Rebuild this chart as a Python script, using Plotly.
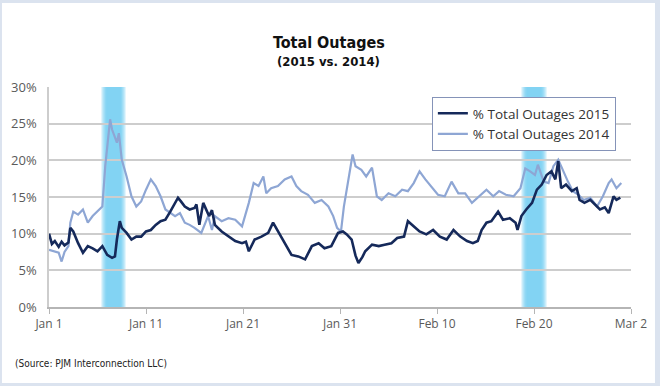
import pandas as pd
import plotly.graph_objects as go

# Day offsets from Jan 1 and % total outages
days_2015 = [0.0, 0.3, 0.6, 1.0, 1.3, 1.6, 2.0, 2.2, 2.5, 3.0, 3.5, 4.0, 4.5, 5.0, 5.5, 6.0, 6.5, 6.8,
             7.0, 7.3, 7.5, 8.0, 8.5, 9.0, 9.5, 10.0, 10.5, 11.0, 11.5, 12.0, 12.5, 13.0, 13.3, 13.6,
             14.0, 14.5, 15.0, 15.2, 15.5, 15.9, 16.5, 16.8, 17.1, 17.8, 18.5, 19.2, 19.9, 20.3, 20.6,
             21.2, 21.9, 22.6, 23.1, 23.6, 24.3, 25.0, 25.7, 26.4, 27.1, 27.8, 28.4, 29.1, 29.8, 30.3,
             30.7, 31.2, 31.6, 31.9, 32.3, 32.6, 33.3, 34.0, 34.6, 35.3, 35.9, 36.6, 37.0, 37.6, 38.2,
             38.9, 39.6, 40.3, 41.0, 41.7, 42.4, 43.1, 43.7, 44.2, 44.6, 45.1, 45.6, 46.3, 46.8, 47.5,
             48.1, 48.3, 48.7, 49.2, 49.8, 50.3, 50.8, 51.3, 51.8, 52.2, 52.5, 52.8, 53.3, 53.9, 54.4,
             54.7, 55.2, 55.8, 56.3, 56.8, 57.3, 57.7, 58.2, 58.5, 58.9]
vals_2015 = [10.0, 8.6, 9.0, 8.2, 8.9, 8.4, 8.8, 10.8, 10.3, 8.7, 7.4, 8.3, 8.0, 7.6, 8.3, 7.1, 6.7, 6.9,
             9.2, 11.7, 10.8, 10.1, 9.2, 9.6, 9.6, 10.3, 10.5, 11.2, 11.7, 11.9, 13.0, 14.2, 14.9, 14.4,
             13.7, 13.3, 13.5, 14.0, 11.2, 14.2, 12.4, 13.2, 11.2, 10.3, 9.6, 9.0, 8.7, 8.9, 7.6,
             9.2, 9.6, 10.1, 11.5, 10.3, 8.7, 7.1, 6.9, 6.5, 8.3, 8.7, 8.0, 8.3, 10.1, 10.3,
             9.9, 9.2, 7.0, 6.0, 6.8, 7.6, 8.5, 8.3, 8.5, 8.7, 9.4, 9.6, 11.7, 11.0, 10.3,
             9.9, 10.5, 9.6, 9.2, 10.5, 9.6, 9.0, 8.7, 9.0, 10.5, 11.5, 11.7, 13.0, 11.9, 12.1,
             11.5, 10.5, 12.4, 13.3, 14.2, 16.0, 16.7, 18.0, 18.5, 17.4, 19.9, 16.2, 16.7, 15.8, 16.2,
             14.6, 14.2, 14.6, 14.0, 13.3, 13.6, 12.8, 15.1, 14.6, 14.9]

days_2014 = [0.0, 0.5, 1.0, 1.3, 1.6, 2.0, 2.2, 2.5, 3.0, 3.5, 4.0, 4.5, 5.0, 5.5, 5.8, 6.0, 6.3, 6.5,
             7.0, 7.2, 7.5, 8.0, 8.5, 9.0, 9.5, 10.0, 10.5, 11.0, 11.5, 12.0, 12.5, 13.0, 13.5, 14.0,
             14.5, 15.0, 15.7, 16.4, 16.8, 17.1, 17.8, 18.5, 19.2, 19.9, 20.6, 21.1, 21.6, 22.1, 22.4,
             22.9, 23.6, 24.3, 25.0, 25.5, 26.0, 26.7, 27.4, 28.1, 28.8, 29.3, 29.7, 30.1, 30.4, 30.9,
             31.3, 31.6, 32.2, 32.7, 33.3, 33.8, 34.3, 35.0, 35.7, 36.4, 37.0, 37.6, 38.2, 38.8, 39.4,
             40.1, 40.8, 41.5, 42.2, 42.9, 43.6, 44.3, 45.1, 45.8, 46.4, 47.1, 47.9, 48.6, 49.1, 49.6,
             50.1, 50.4, 51.0, 51.5, 52.0, 52.5, 53.0, 53.5, 54.0, 54.6, 55.1, 55.8, 56.5, 57.1, 57.7,
             58.0, 58.5, 59.0]
vals_2014 = [7.8, 7.6, 7.4, 6.2, 7.5, 8.3, 11.5, 13.0, 12.6, 13.3, 11.5, 12.4, 13.0, 13.7, 19.2, 21.5, 25.6, 24.2,
             22.4, 23.7, 20.1, 17.8, 15.1, 13.7, 14.4, 16.0, 17.4, 16.5, 15.1, 13.3, 12.8, 12.4, 12.8, 11.5,
             11.2, 10.8, 10.1, 12.4, 10.5, 12.4, 11.7, 12.1, 11.9, 11.0, 14.2, 16.9, 16.5, 17.8, 15.5,
             16.2, 16.5, 17.4, 17.8, 16.5, 15.8, 15.3, 14.2, 14.6, 13.7, 12.4, 10.8, 10.3, 13.7, 17.8,
             20.8, 19.2, 18.7, 17.8, 19.0, 15.1, 14.6, 15.5, 15.1, 16.0, 15.8, 16.9, 18.5, 17.4, 16.5,
             15.3, 15.1, 17.1, 15.5, 15.5, 14.2, 15.1, 16.0, 15.1, 15.8, 15.3, 15.1, 16.2, 18.9, 18.5,
             18.0, 19.4, 17.1, 16.9, 19.2, 20.1, 18.5, 17.1, 15.8, 15.3, 14.6, 14.9, 13.7, 15.1, 16.9,
             17.4, 16.2, 16.9]

band_starts = [5.4, 48.7]
band_ends = [7.9, 51.3]

series_names = ["% Total Outages 2015", "% Total Outages 2014"]
y_ticks = [0, 5, 10, 15, 20, 25, 30]

base = pd.Timestamp("2015-01-01")
def day(v):
    return (base + pd.Timedelta(minutes=round(v * 1440))).strftime("%Y-%m-%d %H:%M")
def to_dates(d):
    return [day(v) for v in d]

fig = go.Figure()
fig.add_trace(go.Scatter(x=to_dates(days_2014), y=vals_2014, mode="lines", name=series_names[1],
                         legendrank=2, line=dict(color="#8ea6d4", width=2.2)))
fig.add_trace(go.Scatter(x=to_dates(days_2015), y=vals_2015, mode="lines", name=series_names[0],
                         legendrank=1, line=dict(color="#15295a", width=2.6)))

# highlighted bands with soft edges
shapes = []
for s, e in zip(band_starts, band_ends):
    w = e - s
    for frac in [0.0, 0.05, 0.1, 0.15, 0.2]:
        shapes.append(dict(type="rect", xref="x", yref="y",
                           x0=day(s + w * frac), x1=day(e - w * frac),
                           y0=0, y1=30, fillcolor="rgb(100,202,242)", opacity=0.28,
                           line=dict(width=0), layer="below"))

title_font = "DejaVu Sans Condensed, Liberation Sans"
annotations = [
    dict(text="<b>Total Outages</b>", xref="paper", yref="paper", x=0.481, y=1.2545,
         showarrow=False, font=dict(family=title_font, size=16, color="#111")),
    dict(text="<b>(2015 vs. 2014)</b>", xref="paper", yref="paper", x=0.481, y=1.159,
         showarrow=False, font=dict(family=title_font, size=13, color="#111")),
    dict(text="(Source: PJM Interconnection LLC)", xref="paper", yref="paper", x=-0.0624, y=-0.291,
         xanchor="left", showarrow=False, font=dict(family=title_font, size=10, color="#222")),
]

fig.update_layout(
    width=660, height=386,
    margin=dict(l=49, r=29, t=87, b=79),
    paper_bgcolor="#dbe3ef", plot_bgcolor="white",
    font=dict(family="Open Sans", color="#5a5a5a"),
    legend=dict(x=0.974, y=0.9545, xanchor="right", yanchor="top", bgcolor="white",
                bordercolor="#8593b8", borderwidth=1, font=dict(size=13.5, color="#333"),
                itemwidth=30, tracegroupgap=0),
    showlegend=True,
    shapes=shapes,
    annotations=annotations,
)
# white panel inside the light frame
fig.add_shape(type="rect", xref="paper", yref="paper", x0=-0.0808, x1=1.0412, y0=-0.3455, y1=1.3818,
              fillcolor="white", line=dict(width=0), layer="below")

fig.update_xaxes(range=[day(0), day(60)], type="date",
                 tick0="2015-01-01", dtick=10 * 86400000,
                 tickformat="%b %-d", showgrid=False, showline=True, linecolor="#b5b5b5", linewidth=1.5,
                 ticks="outside", ticklen=5, tickcolor="#b5b5b5", tickfont=dict(size=12, color="#5a5a5a"))
fig.update_yaxes(range=[0, 30], tickvals=y_ticks, ticktext=[f"{v}%" for v in y_ticks],
                 showgrid=True, gridcolor="#cdcdcd", gridwidth=1.5, zeroline=False,
                 showline=True, linecolor="#cdcdcd", linewidth=1.5, ticklabelstandoff=8,
                 tickfont=dict(size=13, color="#5a5a5a"))

fig.write_html("out.html", config={"displayModeBar": False},
               post_script="document.body.style.margin='0';")
